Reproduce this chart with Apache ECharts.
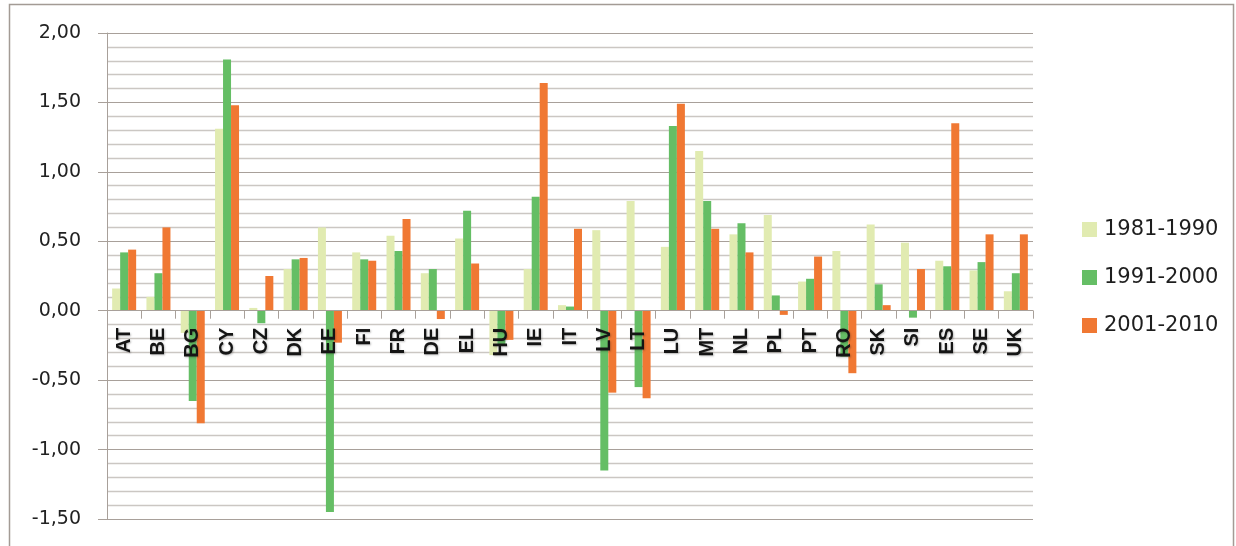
<!DOCTYPE html>
<html>
<head>
<meta charset="utf-8">
<script src="https://cdn.jsdelivr.net/npm/echarts@6/dist/echarts.min.js"></script>
<style>
  html, body { margin: 0; padding: 0; background: #fff; }
  #chart { width: 1236px; height: 546px; }
</style>
</head>
<body>
<div id="chart"></div>
<script>
// Country codes along the category axis
const countries = ['AT','BE','BG','CY','CZ','DK','EE','FI','FR','DE','EL','HU','IE','IT','LV','LT','LU','MT','NL','PL','PT','RO','SK','SI','ES','SE','UK'];

// Decade series
const seriesNames = ['1981-1990', '1991-2000', '2001-2010'];
const values1981 = [0.16, 0.10, -0.16, 1.31, 0.02, 0.30, 0.60, 0.42, 0.54, 0.27, 0.52, -0.32, 0.30, 0.04, 0.58, 0.79, 0.46, 1.15, 0.55, 0.69, 0.21, 0.43, 0.62, 0.49, 0.36, 0.29, 0.14];
const values1991 = [0.42, 0.27, -0.65, 1.81, -0.09, 0.37, -1.45, 0.37, 0.43, 0.30, 0.72, -0.24, 0.82, 0.03, -1.15, -0.55, 1.33, 0.79, 0.63, 0.11, 0.23, -0.33, 0.19, -0.05, 0.32, 0.35, 0.27];
const values2001 = [0.44, 0.60, -0.81, 1.48, 0.25, 0.38, -0.23, 0.36, 0.66, -0.06, 0.34, -0.21, 1.64, 0.59, -0.59, -0.63, 1.49, 0.59, 0.42, -0.03, 0.39, -0.45, 0.04, 0.30, 1.35, 0.55, 0.55];

const colors = ['#e1ebb1', '#65be65', '#f07833'];
const axisGray = '#a8a09a';

const chart = echarts.init(document.getElementById('chart'), null, { renderer: 'canvas' });

const seriesData = [values1981, values1991, values2001];
const gridTop = 33, gridBottom = 27, chartHeight = 546;

chart.setOption({
  animation: false,
  backgroundColor: '#ffffff',
  color: colors,
  graphic: [{
    type: 'rect',
    shape: { x: 9.5, y: 4.5, width: 1224, height: 560 },
    style: { fill: 'none', stroke: '#a39b95', lineWidth: 1.5 },
    silent: true,
    z: -1
  }],
  grid: { left: 107, right: 203, top: gridTop, bottom: gridBottom, containLabel: false, outerBoundsMode: 'none' },
  legend: {
    orient: 'vertical',
    left: 1077,
    top: 214,
    itemWidth: 15,
    itemHeight: 15,
    itemGap: 27,
    icon: 'rect',
    data: seriesNames,
    textStyle: {
      fontFamily: 'DejaVu Sans',
      fontSize: 21,
      lineHeight: 21,
      color: '#1e1e1e',
      padding: [0, 0, 0, 2]
    }
  },
  xAxis: {
    type: 'category',
    data: countries,
    z: 10,
    offset: 0,
    axisLine: { onZero: false, lineStyle: { color: axisGray, width: 1 } },
    axisTick: { show: true, length: 8, alignWithLabel: false, lineStyle: { color: axisGray } },
    axisLabel: {
      rotate: 90,
      margin: 17,
      interval: 0,
      fontFamily: 'Liberation Sans',
      fontWeight: 'bold',
      fontSize: 20,
      color: '#151515',
      textShadowColor: 'rgba(0,0,0,0.25)',
      textShadowBlur: 2,
      textShadowOffsetX: 1,
      textShadowOffsetY: 1
    },
    splitLine: { show: false }
  },
  yAxis: {
    type: 'value',
    min: -1.5,
    max: 2,
    interval: 0.5,
    axisLine: { show: true, lineStyle: { color: axisGray, width: 1 } },
    axisTick: { show: true, length: 9, inside: false, lineStyle: { color: axisGray } },
    axisLabel: {
      margin: 26,
      fontFamily: 'DejaVu Sans',
      fontSize: 19,
      color: '#222',
      formatter: v => v.toFixed(2).replace('.', ',')
    },
    splitLine: { show: true, lineStyle: { color: axisGray, width: 1 } },
    minorTick: { show: false, splitNumber: 5 },
    minorSplitLine: { show: true, lineStyle: { color: '#cbc7c3', width: 1.4 } }
  },
  series: seriesNames.map((name, i) => ({
    name: name,
    type: 'bar',
    data: seriesData[i],
    barGap: '0%',
    barCategoryGap: '30%',
    itemStyle: { color: colors[i] }
  }))
});

// Lift the category axis up to the zero line of the value axis
const zeroY = chart.convertToPixel({ yAxisIndex: 0 }, 0);
const plotBottom = chartHeight - gridBottom;
chart.setOption({ xAxis: { offset: zeroY - plotBottom } });
</script>
</body>
</html>
